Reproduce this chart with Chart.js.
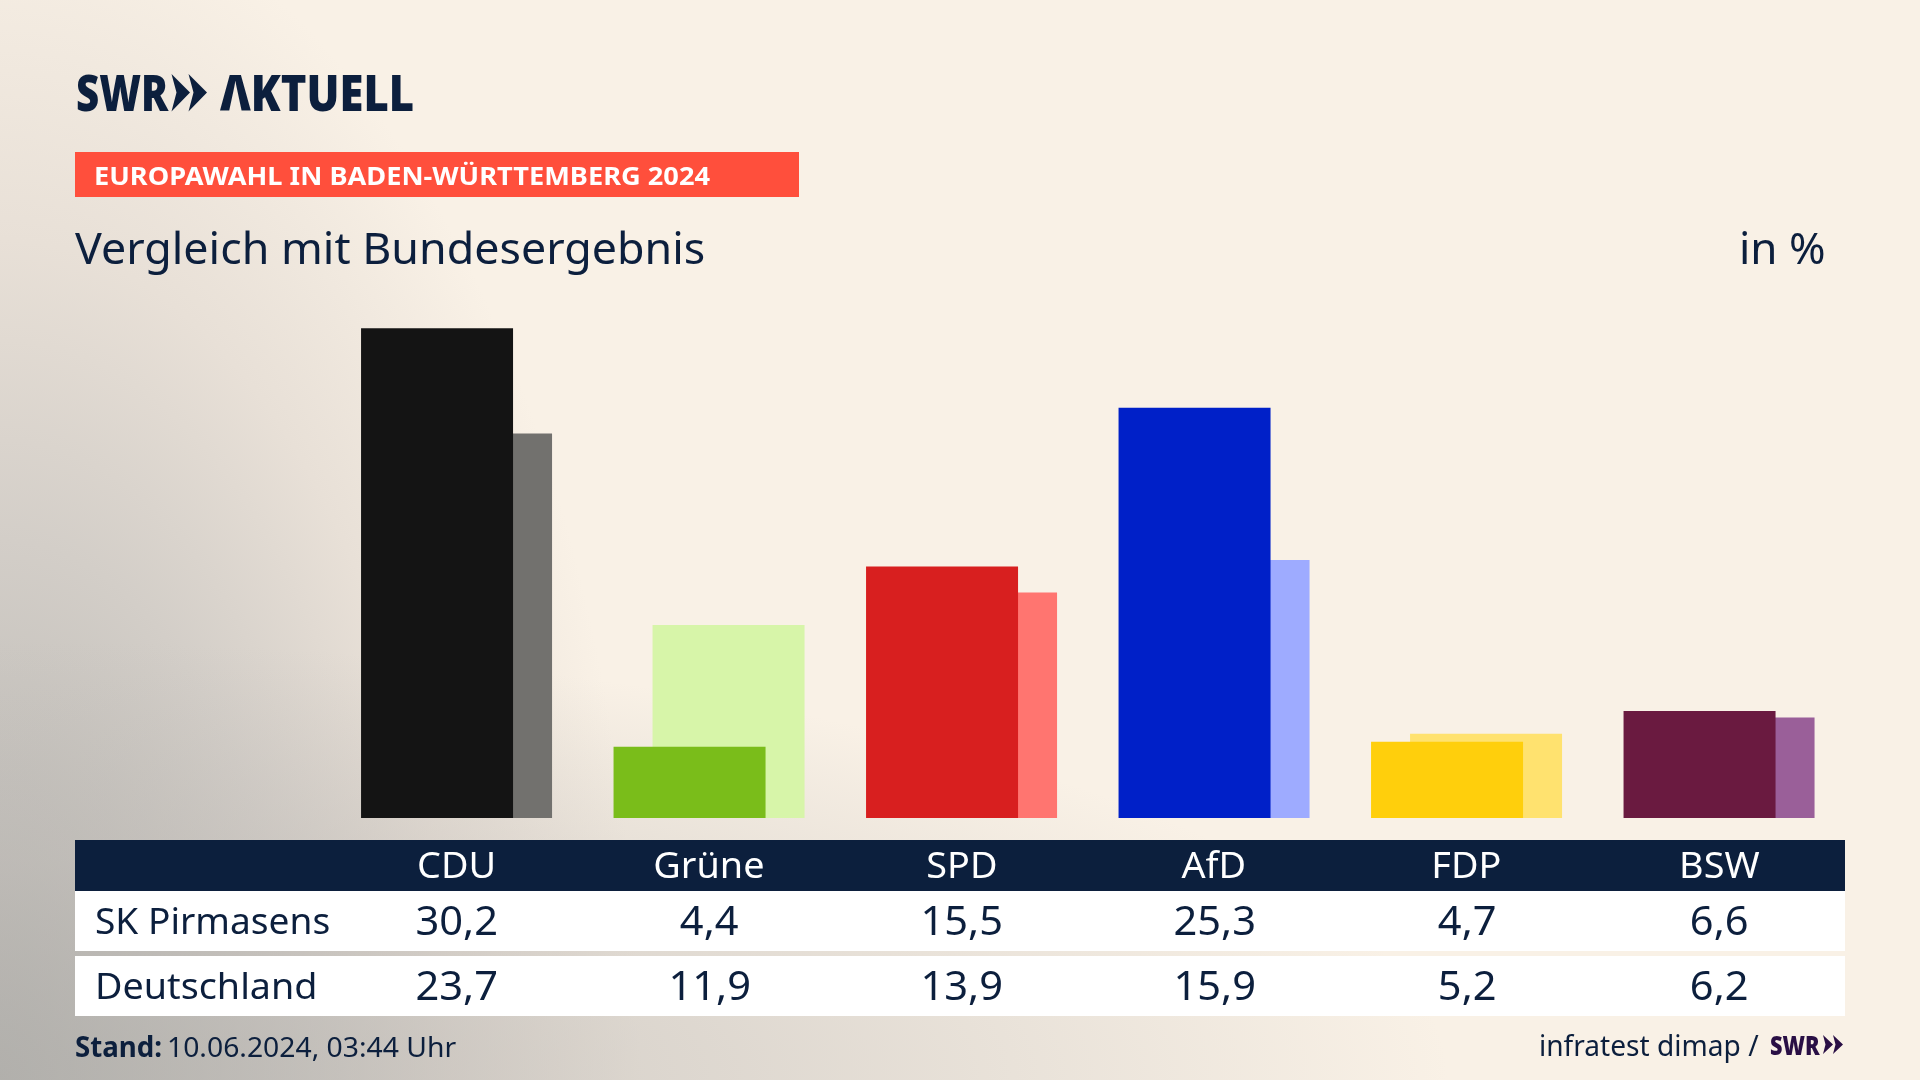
<!DOCTYPE html>
<html lang="de">
<head>
<meta charset="utf-8">
<title>Vergleich mit Bundesergebnis</title>
<script src="https://cdn.jsdelivr.net/npm/chart.js@4"></script>
<style>
  html, body { margin: 0; padding: 0; }
  body {
    width: 1920px; height: 1080px; overflow: hidden; position: relative;
    color: #0c1f3d; font-family: "Noto Sans", sans-serif;
    background:
      radial-gradient(ellipse 1450px 440px at 0% 100%, rgba(178,176,172,.7) 0%, rgba(190,186,182,.45) 50%, rgba(249,241,230,0) 100%),
      radial-gradient(ellipse 640px 1200px at 0% 100%, #b0afab 0%, #d3cec8 45%, #e8e0d7 70%, rgba(249,241,230,0) 100%),
      #f9f1e6;
  }
  #barChart { position: absolute; left: 0; top: 0; }
  .t { position: absolute; white-space: nowrap; line-height: 1; transform-origin: 0 0; }
  .banner { position: absolute; left: 75px; top: 152px; width: 724px; height: 45px; background: #ff4f3c; }
  .cell { position: absolute; text-align: center; line-height: 1; }
  .cell span { display: inline-block; }
  .band { position: absolute; left: 75px; width: 1770px; }
</style>
</head>
<body>
<canvas id="barChart" width="1920" height="1080"></canvas>
<div class="banner"></div>
<div class="band" style="top:840px;height:51px;background:#0c1f3d"></div>
<div class="band" style="top:891px;height:60px;background:#fff"></div>
<div class="band" style="top:956px;height:60px;background:#fff"></div>
<svg style="position:absolute;left:0;top:0" width="1920" height="1080">
  <path d="M171.500 74L190 92.500L171.500 111.500L176.500 92.500zM188.500 74L207 92.500L188.500 111.500L193.500 92.500z" fill="#0c1f3d"/>
  <path d="M1823 1035L1833 1044.500L1823 1054L1825.500 1044.500zM1833 1035L1843 1044.500L1833 1054L1835.500 1044.500z" fill="#2a0f45"/>
</svg>
<script>
const categories = ['CDU', 'Grüne', 'SPD', 'AfD', 'FDP', 'BSW'];
const pirmasens = [30.2, 4.4, 15.5, 25.3, 4.7, 6.6];
const deutschland = [23.7, 11.9, 13.9, 15.9, 5.2, 6.2];
const frontColors = ['#141414', '#7abd1a', '#d81f1f', '#0020c8', '#ffcf0c', '#6a1a40'];
const backColors = ['#72716e', '#d7f5a9', '#ff7570', '#9eabff', '#ffe26f', '#9a5f99'];

Chart.defaults.font.family = '"Noto Sans", sans-serif';

const bar = document.getElementById('barChart');

// first dataset is painted last, so the district stays in front
new Chart(bar, {
  type: 'bar',
  data: {
    labels: categories,
    datasets: [{
      label: 'SK Pirmasens',
      data: pirmasens,
      backgroundColor: frontColors,
      borderWidth: 0
    }, {
      label: 'Deutschland',
      data: deutschland,
      backgroundColor: backColors,
      borderWidth: 0
    }]
  },
  options: {
    responsive: false,
    animation: false,
    // pair is 39px apart and 152px wide in a 252.5px slot
    categoryPercentage: 78 / 252.5,
    barPercentage: 152 / 39,
    layout: {
      padding: { left: 330.3, right: 74.7, top: 299, bottom: 262 }
    },
    plugins: {
      legend: { display: false },
      tooltip: { enabled: false }
    },
    scales: {
      x: { display: false },
      y: { display: false, min: 0, max: 32 }
    }
  }
});

// text helper: x, baseline y, size, optional target width
function put(text, x, base, size, opts = {}) {
  const el = document.createElement('div');
  el.className = 't';
  el.textContent = text;
  el.style.left = x + 'px';
  el.style.fontSize = size + 'px';
  el.style.fontWeight = opts.weight || 400;
  el.style.color = opts.color || '#0c1f3d';
  el.style.top = (base - size * 0.857) + 'px';
  document.body.appendChild(el);
  if (opts.width) el.style.transform = 'scaleX(' + opts.width / el.offsetWidth + ')';
  return el;
}

function cell(text, i, base, size, color, stretch) {
  const el = document.createElement('div');
  el.className = 'cell';
  el.style.left = (330.5 + i * 252.5) + 'px';
  el.style.width = '252.5px';
  el.style.fontSize = size + 'px';
  el.style.top = (base - size * 0.857) + 'px';
  el.style.color = color;
  const s = document.createElement('span');
  s.textContent = text;
  s.style.transform = 'scaleX(' + stretch + ')';
  el.appendChild(s);
  document.body.appendChild(el);
}

const fmt = v => v.toFixed(1).replace('.', ',');

put('SWR', 76, 110, 49, { weight: 900, width: 92 });
put('ΛKTUELL', 220, 110, 49, { weight: 900, width: 194 });
put('EUROPAWAHL IN BADEN-WÜRTTEMBERG 2024', 94, 184, 25, { weight: 700, color: '#fff', width: 616 });
put('Vergleich mit Bundesergebnis', 75, 263, 43, { width: 630 });
put('in %', 1739, 263, 43, { width: 87 });

categories.forEach((c, i) => {
  cell(c, i, 878, 36, '#fff', 1.05);
  cell(fmt(pirmasens[i]), i, 934, 40, '#0c1f3d', 1.04);
  cell(fmt(deutschland[i]), i, 999, 40, '#0c1f3d', 1.04);
});
put('SK Pirmasens', 95, 934, 36, { width: 235 });
put('Deutschland', 95, 999, 36, { width: 222 });

put('Stand:', 75, 1056, 28, { weight: 700, width: 87 });
put('10.06.2024, 03:44 Uhr', 167, 1056, 28, { width: 289 });
put('infratest dimap /', 1539, 1055, 29, { width: 220 });
put('SWR', 1770, 1054, 26, { weight: 900, color: '#2a0f45', width: 50 });
</script>
</body>
</html>
